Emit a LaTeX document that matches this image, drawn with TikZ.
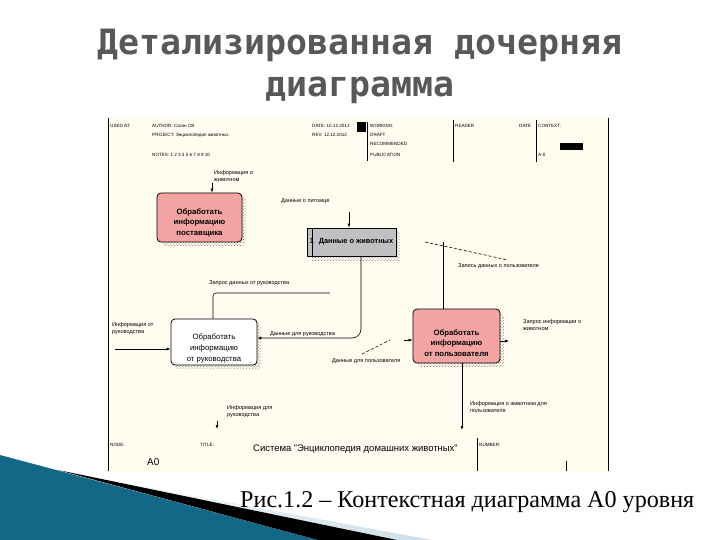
\documentclass[tikz,border=0pt]{standalone}
\usepackage{fontspec}
\setmainfont{Liberation Serif}
\setsansfont{Liberation Sans}
\newfontfamily\titlefont{DejaVu Sans Mono}
\usetikzlibrary{calc,patterns,arrows.meta}
\definecolor{panel}{RGB}{255,252,240}
\definecolor{pinkbox}{RGB}{245,164,164}
\definecolor{graybox}{RGB}{192,192,192}
\definecolor{titlegray}{RGB}{88,88,88}
\definecolor{swdark}{RGB}{18,104,134}
\definecolor{swlight}{RGB}{92,186,216}
\definecolor{swpale}{RGB}{205,222,232}

\begin{document}
\begin{tikzpicture}[x=1bp,y=-1bp,
	hdr/.style={font=\sffamily\fontsize{4.6}{5}\selectfont, inner sep=0pt, anchor=base west},
	lbl/.style={font=\sffamily\fontsize{5.6}{7}\selectfont, inner sep=0pt, align=left, anchor=north west},
	func/.style={draw, line width=0.8bp, rounded corners=4bp, inner sep=0pt,
		preaction={pattern=crosshatch dots, pattern color=black!60, transform canvas={shift={(4bp,-4bp)}}}},
	boxtext/.style={font=\sffamily\bfseries\fontsize{7.8}{10.5}\selectfont, align=center, inner sep=0pt},
	arr/.style={line width=0.6bp, -{Latex[length=4bp,width=3bp]}},
	lnk/.style={line width=0.6bp}]
	%%%%% SLIDE %%%%%
	\useasboundingbox (0,0) rectangle (720,540);
	\fill[white] (0,0) rectangle (720,540);
	
	\node[font=\titlefont\bfseries\fontsize{35}{40}\selectfont, text=titlegray, anchor=base] (title1) at (360,55) {Детализированная дочерняя};
	\node[font=\titlefont\bfseries\fontsize{35}{40}\selectfont, text=titlegray, anchor=base] (title2) at (360,97) {диаграмма};
	
	\shade[left color=white, right color=swpale] (60,471) -- (432,540) -- (395,540) -- cycle;
	\shade[left color=swdark, middle color=swlight, right color=swdark] (0,455) -- (318,540) -- (0,540) -- cycle;
	\fill[black] (58,470) -- (397,540) -- (318,540) -- cycle;
	
	\node[font=\fontsize{24.2}{28}\selectfont, anchor=base west, inner sep=0pt] (caption) at (240,507) {Рис.1.2 – Контекстная диаграмма А0 уровня};
	
	%%%%% IDEF0 SHEET %%%%%
	\fill[panel] (107,116) rectangle (610,472);
	\draw[line width=0.9bp] (108,118) -- (108,471);
	\draw[line width=0.9bp] (608,118) -- (608,471);
	
	\foreach \txt/\px/\py [count=\i] in {USED AT:/110/128, AUTHOR: Сагин СВ/152/128,
		PROJECT: Энциклопедия животных/152/137, NOTES: 1 2 3 4 5 6 7 8 9 10/152/157,
		DATE: 10.12.2012/312/128, REV: 12.12.2012/312/137, WORKING/370/128, DRAFT/370/137,
		RECOMMENDED/370/146, PUBLICATION/370/157, READER/455/128, DATE/519/128,
		CONTEXT:/538/128, A-0/538/157}
		\node[hdr] (hd\i) at (\px,\py) {\txt};
	\fill (357,122) rectangle (366,132);
	\draw[line width=0.8bp] (367,122) -- (367,161);
	\draw[line width=0.8bp] (453,120) -- (453,162);
	\draw[line width=0.8bp] (536,120) -- (536,162);
	\fill (560,143) rectangle (583,150);
	
	% function boxes
	\node[func, fill=pinkbox, minimum width=85bp, minimum height=49bp] (p1) at (199.5,217.5) {};
	\node[boxtext] (t1) at ($(p1.center)+(0,5)$) {Обработать\\информацию\\поставщика};
	
	\node[func, fill=graybox, rounded corners=0pt, minimum width=89bp, minimum height=28bp] (p2) at (351.5,242) {};
	\node[boxtext, font=\sffamily\bfseries\fontsize{7.4}{9}\selectfont] (t2) at (p2.center) {\makebox[9bp][l]{1}Данные о животных};
	\draw[line width=1.2bp] ($(p2.north west)+(6,0)$) -- ($(p2.south west)+(6,0)$);
	
	\node[func, fill=white, minimum width=86bp, minimum height=46bp] (p3) at (214,342) {};
	\node[boxtext, font=\sffamily\fontsize{7.8}{11}\selectfont] (t3) at ($(p3.center)+(0,6)$) {Обработать\\информацию\\от руководства};
	
	\node[func, fill=pinkbox, minimum width=87bp, minimum height=54bp] (p4) at (456.5,336) {};
	\node[boxtext] (t4) at ($(p4.center)+(0,7)$) {Обработать\\информацию\\от пользователя};
	
	% arrows
	\coordinate (i1) at (212,183);
	\draw[arr] (i1) -- (i1 |- p1.north);
	\node[lbl] (l1) at (214,170) {Информация о\\животном};
	
	\coordinate (i2) at (349,212);
	\draw[arr] (i2) -- (i2 |- p2.north);
	\node[lbl, anchor=base west] (l2) at (281,203) {Данные о питомце};
	
	\coordinate (k2) at (361,338);
	\draw[arr, rounded corners=9bp] (k2 |- p2.south) -- (k2) -- (k2 -| p3.east);
	\node[lbl, anchor=base west] (l3) at (270,335) {Данные для руководства};
	
	\coordinate (i3) at (115,349);
	\draw[arr] (i3) -- (i3 -| p3.west);
	\node[lbl] (l4) at (112,322) {Информация от\\руководства};
	
	\coordinate (c5) at (213,293);
	\coordinate (e5) at (330,293);
	\draw[lnk, rounded corners=3bp] (c5 |- p3.north) -- (c5) -- (e5);
	\node[lbl, anchor=base west] (l5) at (209,285) {Запрос данных от руководства};
	
	\coordinate (c6) at (443,242);
	\draw[lnk] (c6) -- (c6 |- p4.north);
	\draw[lnk, dashed, dash pattern=on 3bp off 2bp] (425,242) -- (508,260);
	\node[lbl, anchor=base west] (l6) at (458,268) {Запись данных о пользователе};
	
	\coordinate (s7) at (404,340);
	\draw[arr] (s7) -- (s7 -| p4.west);
	\draw[lnk, dashed, dash pattern=on 3bp off 2bp] (362,354) -- (390,340);
	\node[lbl, anchor=base west] (l7) at (332,362) {Данные для пользователя};
	
	\coordinate (s8) at (509,341);
	\draw[arr] (s8 -| p4.east) -- (s8);
	\node[lbl] (l8) at (523,319) {Запрос информации о\\животном};
	
	\coordinate (o9) at (462,430);
	\draw[arr] (o9 |- p4.south) -- (o9);
	\node[lbl] (l9) at (470,401) {Информация о животном для\\пользователя};
	
	\coordinate (o10) at (217,429);
	\draw[arr] ($(o10)+(0,-8)$) -- (o10);
	\node[lbl] (l10) at (227,405) {Информация для\\руководства};
	
	% footer
	\node[hdr] (ft1) at (110,446) {NODE:};
	\node[hdr] (ft2) at (200,446) {TITLE:};
	\node[hdr] (ft3) at (479,446) {NUMBER:};
	\node[font=\sffamily\fontsize{9.5}{11}\selectfont, anchor=base west, inner sep=0pt] (ttl) at (253,451) {Система "Энциклопедия домашних животных"};
	\node[font=\sffamily\fontsize{10}{12}\selectfont, anchor=base west, inner sep=0pt] (nd) at (147,465) {A0};
	\draw[line width=0.8bp] (477,438) -- (477,471);
	\draw[line width=0.8bp] (566,461) -- (566,471);
	%%%%% END %%%%%
\end{tikzpicture}
\end{document}
